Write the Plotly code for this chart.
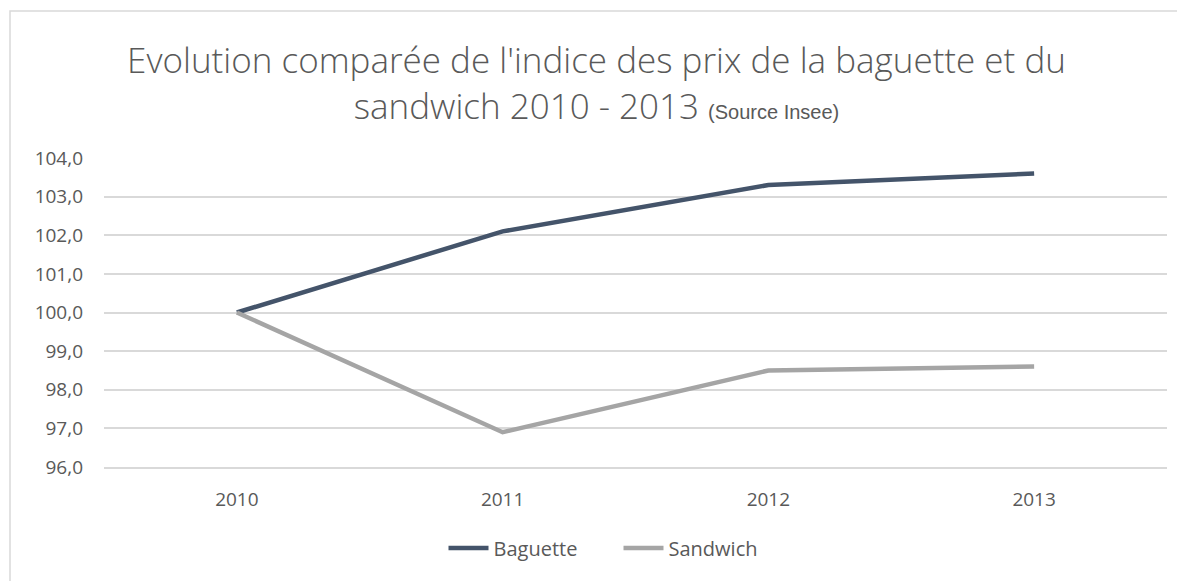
import plotly.graph_objects as go

years = ["2010", "2011", "2012", "2013"]
baguette = [100.0, 102.1, 103.3, 103.6]
sandwich = [100.0, 96.9, 98.5, 98.6]
y_ticks = [96, 97, 98, 99, 100, 101, 102, 103, 104]

# the page body adds an 8px offset, so the figure is sized to fit inside it
W, H = 1177, 573
L, R, T, B = 96, 18, 150, 114

fig = go.Figure()
fig.add_trace(go.Scatter(x=years, y=baguette, mode="lines", name="Baguette",
                         line=dict(color="#44546A", width=4.5)))
fig.add_trace(go.Scatter(x=years, y=sandwich, mode="lines", name="Sandwich",
                         line=dict(color="#A5A5A5", width=4.5)))

# outer chart frame (only the left and top edges are in view)
pw, ph = W - L - R, H - T - B
fig.add_shape(type="rect", xref="paper", yref="paper",
              x0=(2 - L) / pw, x1=(W + 20 - L) / pw,
              y0=-(B + 20) / ph, y1=1 + (T - 3) / ph,
              line=dict(color="#D9D9D9", width=1.5), layer="below")

fig.update_layout(
    width=W, height=H,
    margin=dict(l=L, r=R, t=T, b=B),
    paper_bgcolor="white", plot_bgcolor="white",
    separators=", ",
    font=dict(family="Open Sans", color="#595959", size=19),
    title=dict(
        text="Evolution comparée de l'indice des prix de la baguette et du<br>"
             "sandwich 2010 - 2013 <span style=\"font-size:20px;font-family:'Liberation Sans Narrow','Liberation Sans',sans-serif\">(Source Insee)</span>",
        x=0.5, xanchor="center", y=1 - 65 / H, yanchor="top",
        font=dict(family="Open Sans", size=35, color="#595959", weight=300),
    ),
    xaxis=dict(type="category", range=[-0.5, 3.5], showgrid=False,
               showline=True, linecolor="#D9D9D9", linewidth=1.5,
               ticks="", ticklabelstandoff=14, automargin=False),
    yaxis=dict(range=[96, 104], tickvals=y_ticks, tickformat=".1f",
               showgrid=True, gridcolor="#D9D9D9", gridwidth=1.5,
               zeroline=False, showline=False, ticks="",
               ticklabelstandoff=20, automargin=False),
    legend=dict(orientation="h", x=0.5 + 22 / W, xanchor="center", xref="container",
                y=(H - 540) / H, yanchor="middle", yref="container",
                font=dict(size=20), itemwidth=40, tracegroupgap=0,
                entrywidth=120, entrywidthmode="pixels"),
    showlegend=True,
)

fig.write_html("out.html")
